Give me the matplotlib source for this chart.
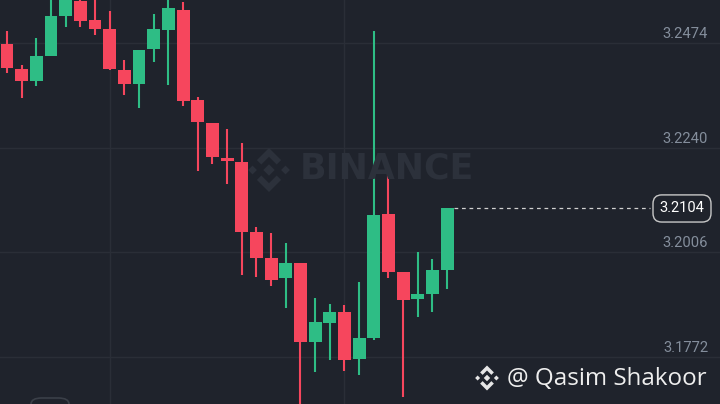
import numpy as np
import matplotlib
matplotlib.use("Agg")
import matplotlib.pyplot as plt
from matplotlib.patches import Polygon, Rectangle, FancyBboxPatch
from matplotlib.transforms import Affine2D

# candle data (open, high, low, close)
opens = [3.2472, 3.2416, 3.2390, 3.2446, 3.2535, 3.2569, 3.2526, 3.2506, 3.2414, 3.2383,
         3.2461, 3.2504, 3.2549, 3.2347, 3.2295, 3.2217, 3.2208, 3.2052, 3.1994, 3.1949,
         3.1982, 3.1805, 3.1848, 3.1872, 3.1767, 3.1814, 3.2092, 3.1962, 3.1902, 3.1913,
         3.1967]
highs = [3.2502, 3.2425, 3.2486, 3.2590, 3.2600, 3.2590, 3.2585, 3.2546, 3.2437, 3.2459,
         3.2540, 3.2585, 3.2567, 3.2354, 3.2295, 3.2282, 3.2251, 3.2063, 3.2049, 3.2027,
         3.1982, 3.1904, 3.1890, 3.1888, 3.1940, 3.2502, 3.2197, 3.1962, 3.2007, 3.1991,
         3.2104]
lows = [3.2407, 3.2351, 3.2378, 3.2446, 3.2511, 3.2511, 3.2493, 3.2414, 3.2358, 3.2329,
        3.2432, 3.2381, 3.2333, 3.2188, 3.2203, 3.2159, 3.1955, 3.1951, 3.1931, 3.1881,
        3.1640, 3.1738, 3.1765, 3.1740, 3.1731, 3.1810, 3.1949, 3.1682, 3.1861, 3.1872,
        3.1924]
closes = [3.2419, 3.2390, 3.2446, 3.2535, 3.2575, 3.2524, 3.2506, 3.2416, 3.2383, 3.2459,
          3.2506, 3.2553, 3.2345, 3.2298, 3.2219, 3.2210, 3.2052, 3.1994, 3.1944, 3.1982,
          3.1805, 3.1850, 3.1872, 3.1765, 3.1814, 3.2090, 3.1962, 3.1899, 3.1913, 3.1967,
          3.2104]
price_ticks = [3.1772, 3.2006, 3.2240, 3.2474]
last_price = 3.2104
vgrid = [7, 23]

bg = "#1f232c"
grid = "#2a2e37"
up = "#2ebd85"
down = "#f6465d"

W, H = 720, 404
fig = plt.figure(figsize=(W / 100, H / 100), dpi=100, facecolor=bg)
ax = fig.add_axes([0, 0, 1, 1], facecolor=bg)
ax.set_xlim(-0.477, 48.6)
ax.set_ylim(3.1666, 3.2571)
ax.axis("off")

for p in price_ticks:
    ax.axhline(p, color=grid, lw=1, zorder=0)
    ax.annotate(f"{p:.4f}", xy=(1, p), xycoords=("axes fraction", "data"),
                xytext=(-12, 9), textcoords="offset pixels", ha="right", va="center",
                color="#848e9c", fontsize=10.6, family="Roboto")
for v in vgrid:
    ax.axvline(v, color=grid, lw=1, zorder=0)

# watermark
def logo(cx, cy, s, color, z=1):
    tr = Affine2D().scale(s / 100).translate(cx / 100, (H - cy) / 100) + fig.dpi_scale_trans
    shapes = [
        [(0, 0.26), (0.26, 0), (0, -0.26), (-0.26, 0)],
        [(-0.75, 0.2), (-0.55, 0), (-0.75, -0.2), (-0.95, 0)],
        [(0.75, 0.2), (0.95, 0), (0.75, -0.2), (0.55, 0)],
        [(-0.55, 0.45), (0, 1), (0.55, 0.45), (0.35, 0.25), (0, 0.6), (-0.35, 0.25)],
        [(-0.55, -0.45), (0, -1), (0.55, -0.45), (0.35, -0.25), (0, -0.6), (-0.35, -0.25)],
    ]
    for pts in shapes:
        fig.patches.append(Polygon(pts, closed=True, transform=tr, facecolor=color,
                                   edgecolor="none", zorder=z))

logo(269, 170, 22, "#2c313b")
fig.text(300 / W, 1 - 169 / H, "BINANCE", color="#2c313b", fontsize=25,
         fontweight="bold", family="DejaVu Sans", ha="left", va="center", zorder=1)

# candles
bw = 0.88
for i in range(len(opens)):
    o, h, l, c = opens[i], highs[i], lows[i], closes[i]
    col = up if c >= o else down
    ax.vlines(i, l, h, color=col, lw=1.5, zorder=3)
    ax.add_patch(Rectangle((i - bw / 2, min(o, c)), bw, max(abs(c - o), 0.0003),
                           facecolor=col, edgecolor="none", zorder=4))

# last price line and label
n = len(closes)
ax.hlines(last_price, n - 1 + 0.45, 43.8, colors="#d0d0d0", lw=0.9,
          linestyles=(0, (3, 3)), zorder=2)
ax.annotate(f"{last_price:.4f}", xy=(682 / W, last_price), xycoords=("axes fraction", "data"),
            ha="center", va="center", color="#ffffff", fontsize=10.5, family="Roboto",
            bbox=dict(boxstyle="round,pad=0.45,rounding_size=0.6", fc=bg, ec="#c8c8c8", lw=1))

# bottom watermark
logo(487, 378, 12.5, "#e6e6e6", z=5)
fig.text(507 / W, 1 - 379 / H, "@ Qasim Shakoor", color="#eeeeee", fontsize=17.4,
         family="Open Sans", ha="left", va="center", zorder=5)

# partial button bottom left
fig.patches.append(FancyBboxPatch((31 / W, -10 / H), 38 / W, 16 / H,
                                  boxstyle="round,pad=0,rounding_size=0.015",
                                  transform=fig.transFigure, facecolor="none",
                                  edgecolor="#3a3f48", lw=1.2, zorder=5))

fig.savefig("out.png", dpi=100, facecolor=bg)
